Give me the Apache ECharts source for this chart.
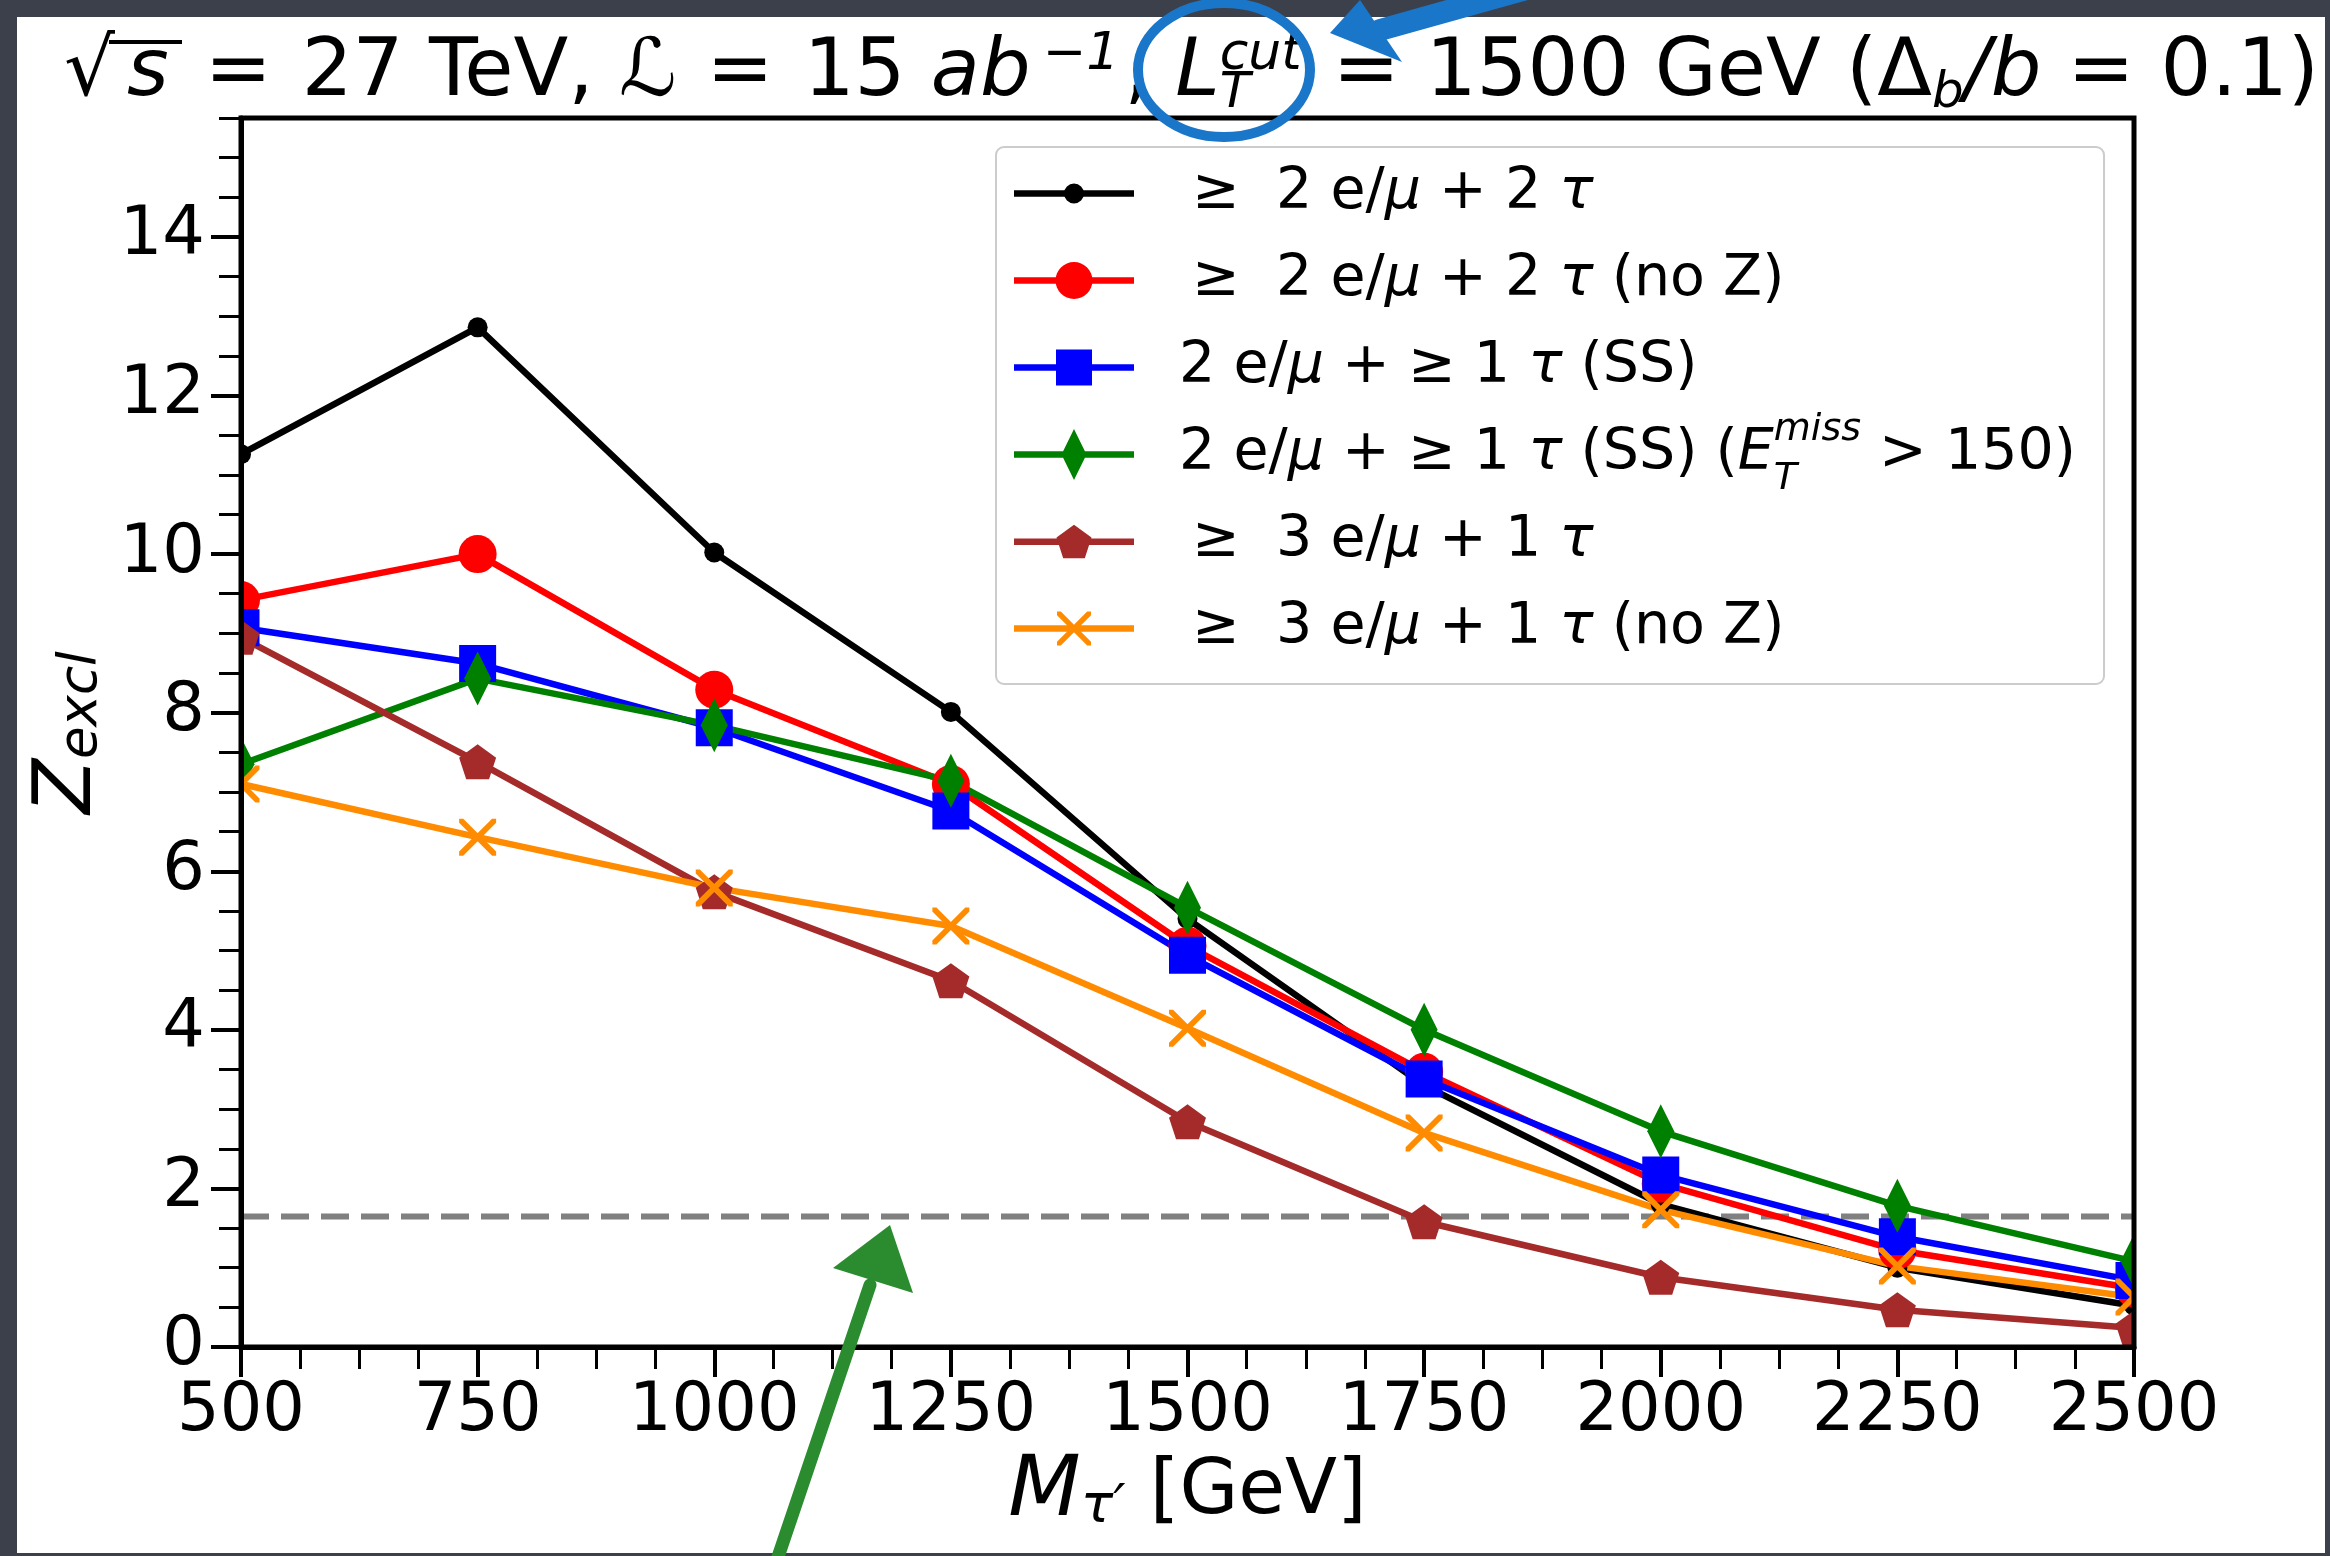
<!DOCTYPE html>
<html>
<head>
<meta charset="utf-8">
<script src="https://cdn.jsdelivr.net/npm/echarts@6/dist/echarts.min.js"></script>
<style>
html, body { margin: 0; padding: 0; background: #3c404b; }
#chart { width: 2330px; height: 1556px; }
</style>
</head>
<body>
<div id="chart"></div>
<script>
// tau' mass points (GeV)
const massPoints = [500, 750, 1000, 1250, 1500, 1750, 2000, 2250, 2500];

// Z_excl per channel
const z2l2tau     = [11.26, 12.86, 10.02, 8.01, 5.40, 3.30, 1.80, 1.00, 0.52];
const z2l2tauNoZ  = [9.42, 10.00, 8.29, 7.10, 5.06, 3.47, 2.06, 1.22, 0.74];
const z2lSS       = [9.07, 8.62, 7.81, 6.76, 4.94, 3.38, 2.17, 1.39, 0.84];
const z2lSSmet    = [7.35, 8.43, 7.84, 7.14, 5.54, 4.00, 2.72, 1.78, 1.08];
const z3l1tau     = [8.95, 7.38, 5.74, 4.62, 2.84, 1.58, 0.88, 0.47, 0.24];
const z3l1tauNoZ  = [7.10, 6.43, 5.79, 5.31, 4.02, 2.70, 1.73, 1.02, 0.63];
const zThreshold  = 1.645;

const seriesNames = [
    '≥ 2 e/μ + 2 τ',
    '≥ 2 e/μ + 2 τ (no Z)',
    '2 e/μ + ≥ 1 τ (SS)',
    '2 e/μ + ≥ 1 τ (SS) (ETmiss > 150)',
    '≥ 3 e/μ + 1 τ',
    '≥ 3 e/μ + 1 τ (no Z)'
];
const legendRich = [
    '{g|≥}{n|  2 e/}{i|μ}{n| + 2 }{i|τ}',
    '{g|≥}{n|  2 e/}{i|μ}{n| + 2 }{i|τ}{n| (no Z)}',
    '{s|2 e/}{i|μ}{n| + ≥ 1 }{i|τ}{n| (SS)}',
    '{s|2 e/}{i|μ}{n| + ≥ 1 }{i|τ}{n| (SS) (}{i|E}{subz|T}{sup|miss}{n| > 150)}',
    '{g|≥}{n|  3 e/}{i|μ}{n| + 1 }{i|τ}',
    '{g|≥}{n|  3 e/}{i|μ}{n| + 1 }{i|τ}{n| (no Z)}'
];

const yMajorTicks = [0, 2, 4, 6, 8, 10, 12, 14];

const FONT = '"DejaVu Sans", sans-serif';
const CLEAR = 'rgba(0,0,0,0)';

// marker shapes
function polyPath(pts) {
    return 'M' + pts.map(p => p[0].toFixed(2) + ',' + p[1].toFixed(2)).join(' L') + ' Z';
}
function circlePath(cx, cy, r) {
    return 'M' + (cx - r) + ',' + cy + ' A' + r + ',' + r + ' 0 0,1 ' + (cx + r) + ',' + cy +
        ' A' + r + ',' + r + ' 0 0,1 ' + (cx - r) + ',' + cy + ' Z';
}
function pentagonPts(cx, cy, r) {
    const pts = [];
    for (let k = 0; k < 5; k++) {
        const a = -Math.PI / 2 + k * 2 * Math.PI / 5;
        pts.push([cx + r * Math.cos(a), cy + r * Math.sin(a)]);
    }
    return pts;
}
function crossPaths(cx, cy, h, t) {
    const x0 = cx - h, x1 = cx + h, y0 = cy - h, y1 = cy + h;
    return polyPath([[x0, y0], [x0 + t, y0], [x1, y1 - t], [x1, y1], [x1 - t, y1], [x0, y0 + t]]) + ' ' +
        polyPath([[x1, y0], [x1, y0 + t], [x0 + t, y1], [x0, y1], [x0, y1 - t], [x1 - t, y0]]);
}

const pentagonSymbol = 'path://' + polyPath(pentagonPts(50, 50, 50));
const crossSymbol = 'path://' + crossPaths(50, 50, 50, 11);

const legendLine = polyPath([[0, -3.25], [120, -3.25], [120, 3.25], [0, 3.25]]);
const legendIcons = [
    'path://' + legendLine + ' ' + circlePath(60, 0, 10),
    'path://' + legendLine + ' ' + circlePath(60, 0, 18.5),
    'path://' + legendLine + ' ' + polyPath([[42, -18], [78, -18], [78, 18], [42, 18]]),
    'path://' + legendLine + ' ' + polyPath([[60, -25.5], [72.5, 0], [60, 25.5], [47.5, 0]]),
    'path://' + legendLine + ' ' + polyPath(pentagonPts(60, 1.5, 18.4)),
    'path://' + legendLine + ' ' + crossPaths(60, 0, 17, 3.8)
];

function lineSeries(name, values, color, symbol, symbolSize) {
    return {
        name: name,
        type: 'line',
        data: massPoints.map((m, i) => [m, values[i]]),
        symbol: symbol,
        symbolSize: symbolSize,
        clip: false,
        lineStyle: { color: color, width: 6.5 },
        itemStyle: { color: color, borderWidth: 0 },
        emphasis: { disabled: true },
        z: 2
    };
}

const chart = echarts.init(document.getElementById('chart'));

const legendTextRich = {
    n: { fontFamily: FONT, fontSize: 57, lineHeight: 87, color: '#000', backgroundColor: CLEAR },
    i: { fontFamily: FONT, fontSize: 57, lineHeight: 87, fontStyle: 'italic', color: '#000' },
    g: { fontFamily: FONT, fontSize: 57, lineHeight: 87, color: '#000', padding: [0, 0, 0, 53] },
    s: { fontFamily: FONT, fontSize: 57, lineHeight: 87, color: '#000', padding: [0, 0, 0, 40] },
    subz: { fontFamily: FONT, fontSize: 38, lineHeight: 34, fontStyle: 'italic', verticalAlign: 'bottom', width: 0, color: '#000' },
    sup: { fontFamily: FONT, fontSize: 38, lineHeight: 52, fontStyle: 'italic', verticalAlign: 'top', color: '#000' }
};

const TF = 80;
const option = {
    animation: false,
    backgroundColor: '#3c404b',
    textStyle: { fontFamily: FONT },
    title: {
        text: '{n|√}{sq|s}{eq|=}{n|27 TeV, }{i|ℒ}{eq|=}{n|15 }{ab|ab}{sup|−1}{n|, }{i|L}{subz|T}{sup|cut}{eq2|=}{n|1500 GeV (Δ}{sub|b}{i|/b}{eq2|=}{n|0.1)}',
        left: 64,
        top: 29,
        padding: 0,
        z: 20,
        textStyle: {
            fontWeight: 'normal',
            rich: {
                n: { fontFamily: FONT, fontSize: TF, lineHeight: 90, fontWeight: 'normal', color: '#000' },
                eq: { fontFamily: FONT, fontSize: TF, lineHeight: 90, fontWeight: 'normal', color: '#000', padding: [0, 30, 0, 30] },
                eq2: { fontFamily: FONT, fontSize: TF, lineHeight: 90, fontWeight: 'normal', color: '#000', padding: [0, 26, 0, 26] },
                i: { fontFamily: FONT, fontSize: TF, lineHeight: 90, fontWeight: 'normal', fontStyle: 'italic', color: '#000' },
                ab: { fontFamily: FONT, fontSize: TF, lineHeight: 90, fontWeight: 'normal', fontStyle: 'italic', color: '#000', padding: [0, 12, 0, 0] },
                sq: { fontFamily: FONT, fontSize: TF, lineHeight: 90, fontWeight: 'normal', fontStyle: 'italic', color: '#000', padding: [0, 6, 0, 12] },
                sup: { fontFamily: FONT, fontSize: 52, lineHeight: 56, fontWeight: 'normal', fontStyle: 'italic', verticalAlign: 'top', color: '#000', padding: [0, 5, 0, 0] },
                sub: { fontFamily: FONT, fontSize: 50, lineHeight: 34, fontWeight: 'normal', fontStyle: 'italic', verticalAlign: 'bottom', color: '#000' },
                subz: { fontFamily: FONT, fontSize: 50, lineHeight: 34, fontWeight: 'normal', fontStyle: 'italic', verticalAlign: 'bottom', width: 0, color: '#000' }
            }
        }
    },
    legend: {
        orient: 'vertical',
        left: 996,
        top: 147,
        padding: [3, 28, 12, 18],
        itemGap: 0,
        itemWidth: 120,
        itemHeight: 52,
        symbolKeepAspect: true,
        selectedMode: false,
        backgroundColor: '#ffffff',
        borderColor: '#cccccc',
        borderWidth: 2,
        borderRadius: 8,
        itemStyle: { borderWidth: 0 },
        data: seriesNames.map((n, i) => ({ name: n, icon: legendIcons[i] })),
        formatter: name => legendRich[seriesNames.indexOf(name)],
        textStyle: { fontFamily: FONT, fontSize: 57, lineHeight: 87, color: '#000', rich: legendTextRich },
        z: 8
    },
    grid: {
        left: 241, right: 196, top: 118, bottom: 209,
        show: true,
        borderColor: '#000',
        borderWidth: 5,
        backgroundColor: 'transparent',
        outerBoundsMode: 'none',
        z: 10
    },
    xAxis: {
        type: 'value',
        min: 500,
        max: 2500,
        interval: 250,
        z: 10,
        axisLine: { show: true, lineStyle: { color: '#000', width: 5 } },
        axisTick: { show: true, inside: false, length: 30, lineStyle: { color: '#000', width: 4 } },
        minorTick: { show: true, splitNumber: 4, length: 22, lineStyle: { color: '#000', width: 3 } },
        axisLabel: { margin: 32, fontSize: 67, color: '#000', fontFamily: FONT, formatter: v => String(v) },
        splitLine: { show: false },
        minorSplitLine: { show: false },
        name: '{mi|M}{ms|τ′}{n| [GeV]}',
        nameLocation: 'middle',
        nameGap: 101,
        nameTextStyle: {
            rich: {
                n: { fontFamily: FONT, fontSize: 76, lineHeight: 84, color: '#000' },
                mi: { fontFamily: FONT, fontSize: 84, lineHeight: 84, fontStyle: 'italic', color: '#000' },
                ms: { fontFamily: FONT, fontSize: 54, lineHeight: 48, fontStyle: 'italic', verticalAlign: 'bottom', color: '#000' }
            }
        }
    },
    yAxis: [{
        type: 'value',
        min: 0,
        max: 15.5,
        interval: 0.5,
        position: 'left',
        z: 10,
        axisLine: { show: true, lineStyle: { color: '#000', width: 5 } },
        axisTick: { show: true, inside: false, length: 30, lineStyle: { color: '#000', width: 4 }, customValues: yMajorTicks },
        axisLabel: { margin: 36, fontSize: 67, color: '#000', fontFamily: FONT, customValues: yMajorTicks, formatter: v => String(v) },
        splitLine: { show: false },
        name: '{zi|Z}{zs|excl}',
        nameLocation: 'middle',
        nameRotate: 90,
        nameGap: 110,
        nameTextStyle: {
            rich: {
                zi: { fontFamily: FONT, fontSize: 80, lineHeight: 80, fontStyle: 'italic', color: '#000' },
                zs: { fontFamily: FONT, fontSize: 53, lineHeight: 46, fontStyle: 'italic', verticalAlign: 'bottom', color: '#000' }
            }
        }
    }, {
        type: 'value',
        min: 0,
        max: 15.5,
        interval: 0.5,
        position: 'left',
        offset: 0,
        z: 10,
        axisLine: { show: false },
        axisTick: { show: true, inside: false, length: 22, lineStyle: { color: '#000', width: 3 } },
        axisLabel: { show: false },
        splitLine: { show: false }
    }],
    graphic: {
        elements: [
            { type: 'rect', z: -10, silent: true, shape: { x: 17, y: 17, width: 2308, height: 1536 }, style: { fill: '#ffffff' } },
            // hide marker halves outside the frame, as the original clips them
            { type: 'rect', z: 5, silent: true, shape: { x: 17, y: 17, width: 222, height: 1536 }, style: { fill: '#ffffff' } },
            { type: 'rect', z: 5, silent: true, shape: { x: 2136, y: 17, width: 189, height: 1536 }, style: { fill: '#ffffff' } },
            { type: 'rect', z: 5, silent: true, shape: { x: 239, y: 17, width: 1897, height: 99 }, style: { fill: '#ffffff' } },
            { type: 'rect', z: 5, silent: true, shape: { x: 239, y: 1350, width: 1897, height: 203 }, style: { fill: '#ffffff' } },
            // sqrt bar
            { type: 'line', z: 21, silent: true, shape: { x1: 109, y1: 42, x2: 182, y2: 42 }, style: { stroke: '#000', lineWidth: 4 } },
            // hand-drawn annotations
            { type: 'ellipse', z: 30, silent: true, shape: { cx: 1224, cy: 70, rx: 86, ry: 67 }, style: { fill: 'none', stroke: '#1976c8', lineWidth: 10 } },
            { type: 'polyline', z: 30, silent: true, shape: { points: [[1380, 30], [1530, -12]] }, style: { stroke: '#1976c8', lineWidth: 22, lineCap: 'round' } },
            { type: 'polygon', z: 30, silent: true, shape: { points: [[1330, 33], [1360, 0], [1402, 62]] }, style: { fill: '#1976c8' } },
            { type: 'polyline', z: 30, silent: true, shape: { points: [[777, 1560], [870, 1285]] }, style: { stroke: '#2a8c2e', lineWidth: 13, lineCap: 'round' } },
            { type: 'polygon', z: 30, silent: true, shape: { points: [[890, 1225], [833, 1268], [913, 1293]] }, style: { fill: '#2a8c2e' } }
        ]
    },
    series: [
        {
            name: 'threshold',
            type: 'line',
            data: [[500, zThreshold], [2500, zThreshold]],
            symbol: 'none',
            clip: false,
            lineStyle: { color: '#808080', width: 6, type: [28, 12] },
            emphasis: { disabled: true },
            z: 1
        },
        lineSeries(seriesNames[0], z2l2tau, '#000000', 'circle', 20),
        lineSeries(seriesNames[1], z2l2tauNoZ, '#ff0000', 'circle', 38),
        lineSeries(seriesNames[2], z2lSS, '#0000ff', 'rect', [37, 37]),
        lineSeries(seriesNames[3], z2lSSmet, '#008000', 'diamond', [27, 54]),
        lineSeries(seriesNames[4], z3l1tau, '#a52a2a', pentagonSymbol, [37, 35]),
        lineSeries(seriesNames[5], z3l1tauNoZ, '#ff8c00', crossSymbol, [37, 37])
    ]
};

chart.setOption(option);
</script>
</body>
</html>
